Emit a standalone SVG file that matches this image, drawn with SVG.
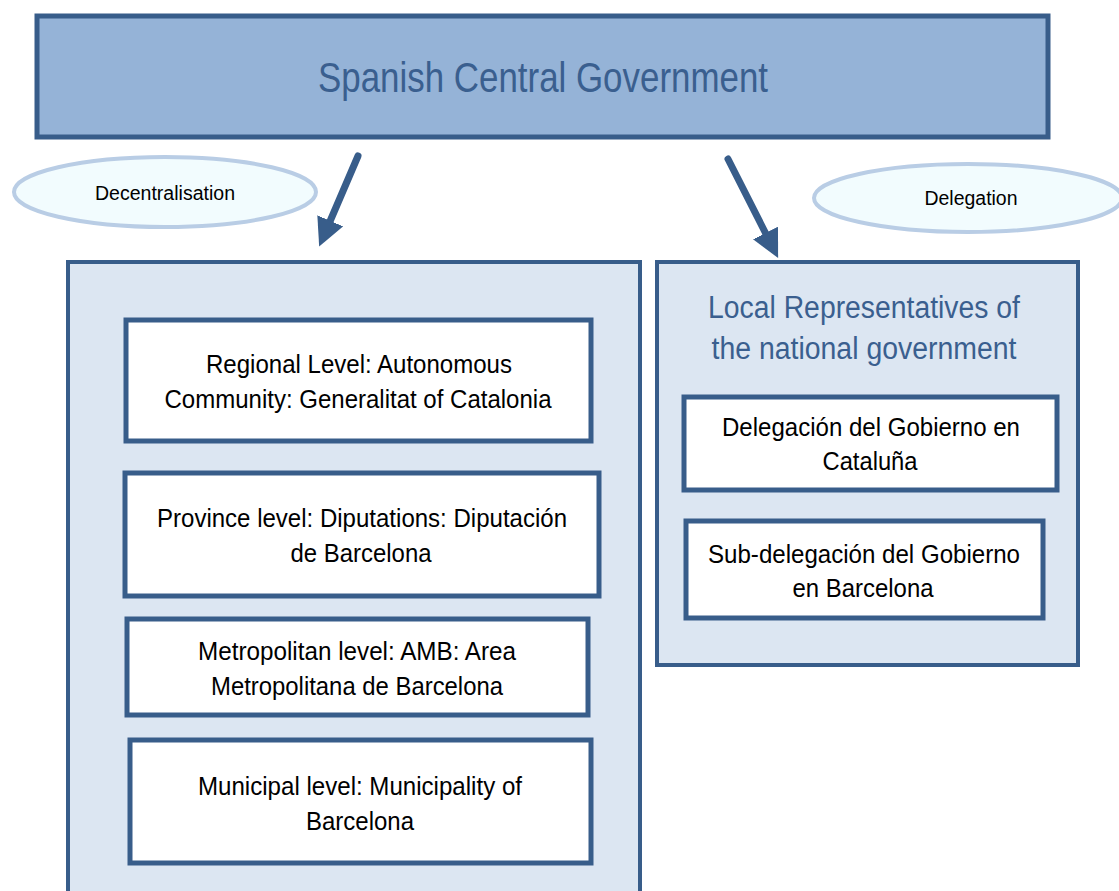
<svg xmlns="http://www.w3.org/2000/svg" width="1119" height="891" viewBox="0 0 1119 891">
<defs>
<style>
.box{fill:#ffffff;stroke:#385d8a;stroke-width:5}
.panel{fill:#dce6f2;stroke:#385d8a;stroke-width:4}
.ell{fill:#f2fcfe;stroke:#b9cde5;stroke-width:4}
.t{font-family:"Liberation Sans",Arial,sans-serif;font-size:26px;fill:#000;text-anchor:middle}
.s{font-family:"Liberation Sans",Arial,sans-serif;font-size:20px;fill:#000;text-anchor:middle}
.h{font-family:"Liberation Sans",Arial,sans-serif;fill:#3a5f8f;text-anchor:middle}
.arr{stroke:#385d8a;stroke-width:7;stroke-linecap:round;fill:none}
</style>
<marker id="ah" viewBox="0 0 10 10" refX="2" refY="5" markerWidth="4" markerHeight="4" orient="auto" markerUnits="strokeWidth">
<path d="M0,0 L10,5 L0,10 z" fill="#385d8a"/>
</marker>
</defs>
<rect width="1119" height="891" fill="#ffffff"/>
<g id="central">
<rect x="37" y="16" width="1011" height="121" fill="#95b3d7" stroke="#385d8a" stroke-width="5"/>
<text class="h" x="543" y="92" font-size="42" textLength="450" lengthAdjust="spacingAndGlyphs">Spanish Central Government</text>
</g>
<g id="decentralisation">
<ellipse class="ell" cx="165" cy="192" rx="151" ry="35"/>
<text class="s" x="165" y="200" textLength="140" lengthAdjust="spacingAndGlyphs">Decentralisation</text>
</g>
<g id="delegation">
<ellipse class="ell" cx="968" cy="198" rx="154" ry="34"/>
<text class="s" x="971" y="205" textLength="93" lengthAdjust="spacingAndGlyphs">Delegation</text>
</g>
<g id="connectors">
<line class="arr" x1="358" y1="156" x2="328" y2="226" marker-end="url(#ah)"/>
<line class="arr" x1="728" y1="159" x2="768" y2="238" marker-end="url(#ah)"/>
</g>
<g id="left-panel">
<rect class="panel" x="68" y="262" width="572" height="660"/>
</g>
<g id="right-panel">
<rect class="panel" x="657" y="262" width="421" height="403"/>
<text class="h" x="864" y="318" font-size="31" textLength="312" lengthAdjust="spacingAndGlyphs">Local Representatives of</text>
<text class="h" x="864" y="359" font-size="31" textLength="305" lengthAdjust="spacingAndGlyphs">the national government</text>
</g>
<g id="regional">
<rect class="box" x="126" y="320" width="465" height="121"/>
<text class="t" x="359" y="373" textLength="306" lengthAdjust="spacingAndGlyphs">Regional Level: Autonomous</text>
<text class="t" x="358" y="408" textLength="387" lengthAdjust="spacingAndGlyphs">Community: Generalitat of Catalonia</text>
</g>
<g id="province">
<rect class="box" x="125" y="473" width="474" height="123"/>
<text class="t" x="362" y="527" textLength="410" lengthAdjust="spacingAndGlyphs">Province level: Diputations: Diputación</text>
<text class="t" x="361" y="562" textLength="141" lengthAdjust="spacingAndGlyphs">de Barcelona</text>
</g>
<g id="metropolitan">
<rect class="box" x="127" y="619" width="461" height="96"/>
<text class="t" x="357" y="660" textLength="318" lengthAdjust="spacingAndGlyphs">Metropolitan level: AMB: Area</text>
<text class="t" x="357" y="695" textLength="292" lengthAdjust="spacingAndGlyphs">Metropolitana de Barcelona</text>
</g>
<g id="municipal">
<rect class="box" x="130" y="740" width="461" height="123"/>
<text class="t" x="360" y="795" textLength="324" lengthAdjust="spacingAndGlyphs">Municipal level: Municipality of</text>
<text class="t" x="360" y="830" textLength="108" lengthAdjust="spacingAndGlyphs">Barcelona</text>
</g>
<g id="delegacion">
<rect class="box" x="684" y="397" width="373" height="93"/>
<text class="t" x="871" y="436" textLength="298" lengthAdjust="spacingAndGlyphs">Delegación del Gobierno en</text>
<text class="t" x="870" y="470" textLength="95" lengthAdjust="spacingAndGlyphs">Cataluña</text>
</g>
<g id="subdelegacion">
<rect class="box" x="686" y="521" width="357" height="97"/>
<text class="t" x="864" y="563" textLength="312" lengthAdjust="spacingAndGlyphs">Sub-delegación del Gobierno</text>
<text class="t" x="863" y="597" textLength="141" lengthAdjust="spacingAndGlyphs">en Barcelona</text>
</g>
</svg>
